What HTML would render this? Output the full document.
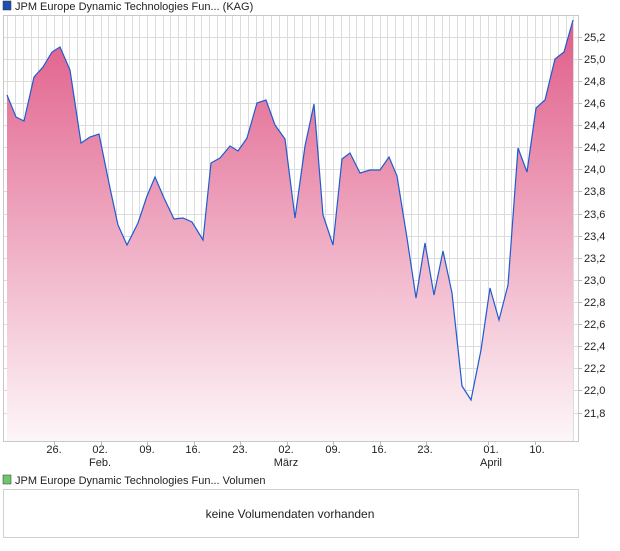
<!DOCTYPE html>
<html><head><meta charset="utf-8"><style>
body{margin:0;background:#fff;width:620px;height:546px;overflow:hidden;font-family:"Liberation Sans",Arial,sans-serif}
</style></head><body>
<svg width="620" height="546" xmlns="http://www.w3.org/2000/svg" font-family="Liberation Sans, Arial, sans-serif">
<defs>
<linearGradient id="g" x1="0" y1="15" x2="0" y2="441" gradientUnits="userSpaceOnUse">
<stop offset="0" stop-color="#e05a88"/>
<stop offset="1" stop-color="#fdf6f9"/>
</linearGradient>
</defs>
<rect x="3" y="1" width="8" height="9" fill="#1f4fb0" stroke="#333" stroke-width="0.5"/>
<text x="15" y="10" font-size="11" fill="#222">JPM Europe Dynamic Technologies Fun... (KAG)</text>
<g stroke="#dcdcdc" stroke-width="1" id="grid">
<script>/*static*/</script>
</g>
<g stroke="#dcdcdc" stroke-width="1">
<path d="M7.5 15V441M15.5 15V441M23.5 15V441M31.5 15V441M38.5 15V441M46.5 15V441M54.5 15V441M62.5 15V441M69.5 15V441M77.5 15V441M85.5 15V441M93.5 15V441M101.5 15V441M108.5 15V441M116.5 15V441M124.5 15V441M132.5 15V441M139.5 15V441M147.5 15V441M155.5 15V441M163.5 15V441M170.5 15V441M178.5 15V441M186.5 15V441M194.5 15V441M201.5 15V441M209.5 15V441M217.5 15V441M225.5 15V441M232.5 15V441M240.5 15V441M248.5 15V441M256.5 15V441M263.5 15V441M271.5 15V441M279.5 15V441M287.5 15V441M294.5 15V441M302.5 15V441M310.5 15V441M318.5 15V441M325.5 15V441M333.5 15V441M341.5 15V441M349.5 15V441M356.5 15V441M364.5 15V441M372.5 15V441M380.5 15V441M387.5 15V441M395.5 15V441M403.5 15V441M411.5 15V441M418.5 15V441M426.5 15V441M434.5 15V441M442.5 15V441M449.5 15V441M457.5 15V441M465.5 15V441M473.5 15V441M480.5 15V441M488.5 15V441M496.5 15V441M504.5 15V441M511.5 15V441M519.5 15V441M527.5 15V441M535.5 15V441M542.5 15V441M550.5 15V441M558.5 15V441M566.5 15V441M573.5 15V441"/>
<path d="M3 37.5H578M3 59.5H578M3 81.5H578M3 103.5H578M3 125.5H578M3 147.5H578M3 169.5H578M3 191.5H578M3 214.5H578M3 236.5H578M3 258.5H578M3 280.5H578M3 302.5H578M3 324.5H578M3 346.5H578M3 368.5H578M3 390.5H578M3 413.5H578"/>
</g>
<path fill="url(#g)" stroke="none" d="M7 95L16 117L24 121L34 77L43 67L52 52L60 47L70 70L81 143L90 137L99 134L110 188L118 225L127 245L138 223L147 196L155 177L164 198L174 219L183 218L192 222L203 240L211 163L220 158L230 146L238 151L247 138L257 103L266 100L275 125L285 139L295 218L305 146L314 104L323 215L333 245L342 159L350 153L360 173L370 170L380 170L389 157L397 176L407 238L416 298L425 243L434 295L443 251L452 293L462 386L471 400L481 350L490 288L499 320L508 285L518 148L527 172L536 108L545 100L555 59L564 52L573 20L573 441L7 441Z"/>
<path fill="none" stroke="#1f5bd0" stroke-width="1.2" d="M7 95L16 117L24 121L34 77L43 67L52 52L60 47L70 70L81 143L90 137L99 134L110 188L118 225L127 245L138 223L147 196L155 177L164 198L174 219L183 218L192 222L203 240L211 163L220 158L230 146L238 151L247 138L257 103L266 100L275 125L285 139L295 218L305 146L314 104L323 215L333 245L342 159L350 153L360 173L370 170L380 170L389 157L397 176L407 238L416 298L425 243L434 295L443 251L452 293L462 386L471 400L481 350L490 288L499 320L508 285L518 148L527 172L536 108L545 100L555 59L564 52L573 20"/>
<rect x="3.5" y="15.5" width="575" height="426" fill="none" stroke="#c8c8c8"/>
<g stroke="#bbb"><path d="M578 37.5h4M578 59.5h4M578 81.5h4M578 103.5h4M578 125.5h4M578 147.5h4M578 169.5h4M578 191.5h4M578 214.5h4M578 236.5h4M578 258.5h4M578 280.5h4M578 302.5h4M578 324.5h4M578 346.5h4M578 368.5h4M578 390.5h4M578 413.5h4"/>
<path d="M54.5 441v4M101.5 441v4M147.5 441v4M194.5 441v4M240.5 441v4M287.5 441v4M333.5 441v4M380.5 441v4M426.5 441v4M488.5 441v4M535.5 441v4"/></g>
<g font-size="11" fill="#222">
<text x="584" y="41">25,2</text><text x="584" y="63">25,0</text><text x="584" y="85">24,8</text><text x="584" y="107">24,6</text><text x="584" y="129">24,4</text><text x="584" y="151">24,2</text><text x="584" y="173">24,0</text><text x="584" y="195">23,8</text><text x="584" y="218">23,6</text><text x="584" y="240">23,4</text><text x="584" y="262">23,2</text><text x="584" y="284">23,0</text><text x="584" y="306">22,8</text><text x="584" y="328">22,6</text><text x="584" y="350">22,4</text><text x="584" y="372">22,2</text><text x="584" y="394">22,0</text><text x="584" y="417">21,8</text>
</g>
<g font-size="11" fill="#222" text-anchor="middle">
<text x="54" y="453">26.</text><text x="100" y="453">02.</text><text x="147" y="453">09.</text><text x="193" y="453">16.</text><text x="240" y="453">23.</text><text x="286" y="453">02.</text><text x="333" y="453">09.</text><text x="379" y="453">16.</text><text x="425" y="453">23.</text><text x="491" y="453">01.</text><text x="537" y="453">10.</text>
<text x="100" y="466">Feb.</text><text x="286" y="466">März</text><text x="491" y="466">April</text>
</g>
<rect x="3" y="475" width="8" height="9" fill="#6cc86c" stroke="#333" stroke-width="0.5"/>
<text x="15" y="484" font-size="11" fill="#222">JPM Europe Dynamic Technologies Fun... Volumen</text>
<rect x="3.5" y="489.5" width="575" height="48" fill="#fff" stroke="#d0d0d0"/>
<text x="290" y="518" font-size="12" fill="#222" text-anchor="middle">keine Volumendaten vorhanden</text>
</svg>
</body></html>
